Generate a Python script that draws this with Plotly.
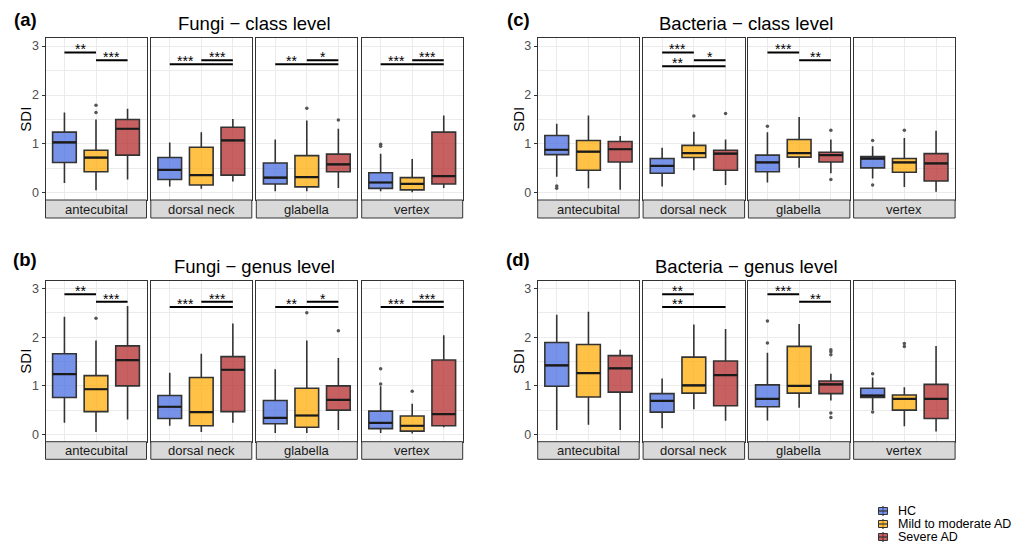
import plotly.graph_objects as go

W, H = 1019, 546
OFF = 8  # default page body margin of the html page

groups = ["HC", "Mild to moderate AD", "Severe AD"]
sites = ["antecubital", "dorsal neck", "glabella", "vertex"]
panel_letters = ["(a)", "(b)", "(c)", "(d)"]
panel_titles = ["Fungi \u2212 class level", "Fungi \u2212 genus level",
                "Bacteria \u2212 class level", "Bacteria \u2212 genus level"]
y_ticks = [0, 1, 2, 3]

# ---- values: [site][group] ----
fungi_class_low = [[0.20, 0.05, 0.27], [0.13, 0.08, 0.23], [0.03, 0.03, 0.10], [0.03, 0.01, 0.10]]
fungi_class_q1 = [[0.62, 0.43, 0.77], [0.27, 0.16, 0.36], [0.18, 0.12, 0.43], [0.09, 0.06, 0.18]]
fungi_class_med = [[1.03, 0.72, 1.31], [0.47, 0.36, 1.07], [0.31, 0.32, 0.58], [0.21, 0.18, 0.34]]
fungi_class_q3 = [[1.24, 0.87, 1.50], [0.72, 0.93, 1.34], [0.61, 0.76, 0.79], [0.41, 0.31, 1.24]]
fungi_class_high = [[1.64, 1.50, 1.72], [1.03, 1.24, 1.51], [1.09, 1.48, 1.31], [0.80, 0.69, 1.58]]
fungi_class_out = [[[], [1.64, 1.79], []], [[], [], []], [[], [1.73], [1.49]], [[0.95, 0.99], [], []]]
fungi_class_sig = [(0, 0, 1, 2.87, "**", 0.5), (0, 1, 2, 2.71, "***", 1.5),
                   (1, 0, 2, 2.63, "***", 0.5), (1, 1, 2, 2.71, "***", 1.5),
                   (2, 0, 2, 2.63, "**", 0.5), (2, 1, 2, 2.71, "*", 1.5),
                   (3, 0, 2, 2.63, "***", 0.5), (3, 1, 2, 2.71, "***", 1.5)]

fungi_genus_low = [[0.24, 0.05, 0.31], [0.18, 0.05, 0.24], [0.03, 0.03, 0.09], [0.03, 0.02, 0.15]]
fungi_genus_q1 = [[0.76, 0.47, 1.00], [0.33, 0.18, 0.47], [0.22, 0.15, 0.50], [0.12, 0.07, 0.18]]
fungi_genus_med = [[1.24, 0.93, 1.53], [0.57, 0.46, 1.33], [0.34, 0.39, 0.71], [0.24, 0.18, 0.42]]
fungi_genus_q3 = [[1.66, 1.21, 1.82], [0.80, 1.17, 1.60], [0.70, 0.95, 1.00], [0.48, 0.38, 1.53]]
fungi_genus_high = [[2.42, 1.93, 2.64], [1.27, 1.66, 2.28], [1.34, 1.93, 1.57], [0.99, 0.63, 2.04]]
fungi_genus_out = [[[], [2.39], []], [[], [], []], [[], [2.50], [2.13]], [[1.04, 1.35], [0.89], []]]
fungi_genus_sig = [(0, 0, 1, 2.88, "**", 0.5), (0, 1, 2, 2.73, "***", 1.5),
                   (1, 0, 2, 2.62, "***", 0.5), (1, 1, 2, 2.73, "***", 1.5),
                   (2, 0, 2, 2.62, "**", 0.5), (2, 1, 2, 2.73, "*", 1.5),
                   (3, 0, 2, 2.62, "***", 0.5), (3, 1, 2, 2.73, "***", 1.5)]

bacteria_class_low = [[0.33, 0.09, 0.06], [0.13, 0.46, 0.16], [0.21, 0.51, 0.40], [0.29, 0.12, 0.02]]
bacteria_class_q1 = [[0.78, 0.46, 0.63], [0.40, 0.72, 0.46], [0.43, 0.73, 0.63], [0.51, 0.42, 0.24]]
bacteria_class_med = [[0.88, 0.84, 0.89], [0.55, 0.81, 0.80], [0.62, 0.81, 0.77], [0.70, 0.62, 0.60]]
bacteria_class_q3 = [[1.17, 1.07, 1.05], [0.70, 0.97, 0.87], [0.77, 1.09, 0.83], [0.74, 0.70, 0.80]]
bacteria_class_high = [[1.41, 1.58, 1.16], [0.92, 1.25, 1.09], [1.24, 1.55, 1.09], [0.95, 1.12, 1.27]]
bacteria_class_out = [[[0.09, 0.14], [], []], [[], [1.57], [1.62]], [[1.36], [], [1.28, 0.27]],
                      [[1.07, 0.16], [1.28], []]]
bacteria_class_sig = [(1, 0, 1, 2.87, "***", 0.5), (1, 1, 2, 2.71, "*", 1.5),
                      (1, 0, 2, 2.59, "**", 0.5),
                      (2, 0, 1, 2.87, "***", 0.5), (2, 1, 2, 2.71, "**", 1.5)]

bacteria_genus_low = [[0.09, 0.20, 0.09], [0.13, 0.52, 0.28], [0.29, 0.55, 0.70], [0.50, 0.17, 0.06]]
bacteria_genus_q1 = [[0.99, 0.77, 0.87], [0.46, 0.85, 0.59], [0.57, 0.85, 0.84], [0.76, 0.50, 0.33]]
bacteria_genus_med = [[1.42, 1.26, 1.36], [0.69, 1.01, 1.22], [0.73, 1.00, 1.03], [0.80, 0.73, 0.73]]
bacteria_genus_q3 = [[1.89, 1.85, 1.62], [0.84, 1.59, 1.51], [1.02, 1.81, 1.10], [0.95, 0.81, 1.03]]
bacteria_genus_high = [[2.46, 2.52, 1.74], [1.15, 2.26, 2.17], [1.68, 2.27, 1.25], [1.17, 0.97, 1.82]]
bacteria_genus_out = [[[], [], []], [[], [], []], [[1.88, 2.33], [], [1.64, 1.70, 1.74, 0.35, 0.44]],
                      [[1.25, 0.46], [1.81, 1.87], []]]
bacteria_genus_sig = [(1, 0, 1, 2.88, "**", 0.5), (1, 0, 2, 2.62, "**", 0.5),
                      (2, 0, 1, 2.88, "***", 0.5), (2, 1, 2, 2.73, "**", 1.5)]

# ---- styling ----
FONT = "Arial, Liberation Sans, sans-serif"
FILLS = ["rgba(65,105,225,0.72)", "rgba(255,170,0,0.72)", "rgba(178,34,34,0.72)"]
GRID = "#EBEBEB"
BORDER = "#333333"
BOX_W = 0.75
YR = [-0.148, 3.16]

row_top = [38.3, 280.7]
row_bot = [200.0, 441.7]
strip_bot = [218.0, 459.3]
col_lefts = [[45.5, 150.8, 256.3, 361.7], [537.7, 643.1, 748.4, 853.6]]
col_w = [101.0, 101.5]

panels = [
    dict(row=0, cg=0, low=fungi_class_low, q1=fungi_class_q1, med=fungi_class_med, q3=fungi_class_q3,
         high=fungi_class_high, out=fungi_class_out, sig=fungi_class_sig),
    dict(row=1, cg=0, low=fungi_genus_low, q1=fungi_genus_q1, med=fungi_genus_med, q3=fungi_genus_q3,
         high=fungi_genus_high, out=fungi_genus_out, sig=fungi_genus_sig),
    dict(row=0, cg=1, low=bacteria_class_low, q1=bacteria_class_q1, med=bacteria_class_med,
         q3=bacteria_class_q3, high=bacteria_class_high, out=bacteria_class_out, sig=bacteria_class_sig),
    dict(row=1, cg=1, low=bacteria_genus_low, q1=bacteria_genus_q1, med=bacteria_genus_med,
         q3=bacteria_genus_q3, high=bacteria_genus_high, out=bacteria_genus_out, sig=bacteria_genus_sig),
]

FW, FH = W - OFF, H - OFF


def px(x):
    return (x - OFF) / FW


def py(y):
    return 1 - (y - OFF) / FH


fig = go.Figure()
layout_axes = {}
shapes = []
annotations = []

for p, pdict in enumerate(panels):
    row, cg = pdict["row"], pdict["cg"]
    for s in range(4):
        k = p * 4 + s + 1
        xid = "x" if k == 1 else f"x{k}"
        yid = "y" if k == 1 else f"y{k}"
        xname = "xaxis" if k == 1 else f"xaxis{k}"
        yname = "yaxis" if k == 1 else f"yaxis{k}"
        left = col_lefts[cg][s]
        right = left + col_w[cg]
        top, bot = row_top[row], row_bot[row]
        layout_axes[xname] = dict(domain=[px(left), px(right)], range=[-0.6, 2.6], anchor=yid,
                                  tickvals=[0, 1, 2], showticklabels=False, ticks="",
                                  showgrid=True, gridcolor=GRID, gridwidth=1.1, zeroline=False,
                                  showline=True, mirror=True, linecolor=BORDER, linewidth=1)
        first = (s == 0)
        layout_axes[yname] = dict(domain=[py(bot), py(top)], range=YR, anchor=xid,
                                  tickvals=y_ticks, showticklabels=first,
                                  ticks="outside" if first else "", ticklen=3, tickcolor=BORDER,
                                  tickfont=dict(family=FONT, size=12.5, color="#4D4D4D"),
                                  showgrid=True, gridcolor=GRID, gridwidth=1.1, zeroline=False,
                                  showline=True, mirror=True, linecolor=BORDER, linewidth=1,
                                  minor=dict(tickvals=[0.5, 1.5, 2.5], showgrid=True,
                                             gridcolor=GRID, gridwidth=0.6, ticks=""))
        for g in range(3):
            fig.add_trace(go.Box(
                x=[g], lowerfence=[pdict["low"][s][g]], q1=[pdict["q1"][s][g]],
                median=[pdict["med"][s][g]], q3=[pdict["q3"][s][g]],
                upperfence=[pdict["high"][s][g]], width=BOX_W, whiskerwidth=0,
                fillcolor=FILLS[g], line=dict(color=BORDER, width=1.6), boxpoints=False,
                showlegend=False, hoverinfo="skip", xaxis=xid, yaxis=yid))
            m = pdict["med"][s][g]
            fig.add_trace(go.Scatter(
                x=[g - BOX_W / 2, g + BOX_W / 2], y=[m, m], mode="lines",
                line=dict(color="#1a1a1a", width=2.2), showlegend=False, hoverinfo="skip",
                xaxis=xid, yaxis=yid))
            outs = pdict["out"][s][g]
            if outs:
                fig.add_trace(go.Scatter(
                    x=[g] * len(outs), y=outs, mode="markers",
                    marker=dict(color="#555555", size=3.5), showlegend=False, hoverinfo="skip",
                    xaxis=xid, yaxis=yid))
        for (si, g1, g2, yv, lab, lx) in pdict["sig"]:
            if si != s:
                continue
            fig.add_trace(go.Scatter(
                x=[g1, g2], y=[yv, yv], mode="lines", line=dict(color="black", width=2),
                showlegend=False, hoverinfo="skip", xaxis=xid, yaxis=yid))
            annotations.append(dict(x=lx, y=yv, xref=xid, yref=yid, text=lab, showarrow=False,
                                    yanchor="bottom", yshift=-7,
                                    font=dict(family=FONT, size=14, color="black")))
        # strip
        shapes.append(dict(type="rect", xref="paper", yref="paper", x0=px(left), x1=px(right),
                           y0=py(strip_bot[row]), y1=py(bot), fillcolor="#D9D9D9",
                           line=dict(color=BORDER, width=1)))
        annotations.append(dict(x=px((left + right) / 2), y=py((bot + strip_bot[row]) / 2),
                                xref="paper", yref="paper", text=sites[s], showarrow=False,
                                xanchor="center", yanchor="middle",
                                font=dict(family=FONT, size=13, color="#1A1A1A")))
    # titles, letters, y-title
    gl = col_lefts[cg][0]
    gr = col_lefts[cg][3] + col_w[cg]
    ty = [24, 266][row]
    annotations.append(dict(x=px((gl + gr) / 2), y=py(ty), xref="paper", yref="paper",
                            text=panel_titles[p], showarrow=False, xanchor="center",
                            yanchor="middle", font=dict(family=FONT, size=18.5, color="black")))
    annotations.append(dict(x=px([25, 518][cg]), y=py([19, 260][row]), xref="paper", yref="paper",
                            text="<b>" + panel_letters[p] + "</b>", showarrow=False,
                            xanchor="center", yanchor="middle",
                            font=dict(family=FONT, size=18.5, color="black")))
    annotations.append(dict(x=px(gl - 20), y=py((row_top[row] + row_bot[row]) / 2),
                            xref="paper", yref="paper", text="SDI", textangle=-90,
                            showarrow=False, xanchor="center", yanchor="middle",
                            font=dict(family=FONT, size=15, color="black")))

# legend
leg_y = [511, 524, 537]
lx0 = 883
for g, name in enumerate(groups):
    yc = leg_y[g]
    shapes.append(dict(type="line", xref="paper", yref="paper", x0=px(lx0), x1=px(lx0),
                       y0=py(yc - 5), y1=py(yc + 5), line=dict(color=BORDER, width=1.2)))
    shapes.append(dict(type="rect", xref="paper", yref="paper", x0=px(lx0 - 4.5), x1=px(lx0 + 4.5),
                       y0=py(yc + 3.5), y1=py(yc - 3.5), fillcolor=FILLS[g],
                       line=dict(color=BORDER, width=1)))
    shapes.append(dict(type="line", xref="paper", yref="paper", x0=px(lx0 - 4.5), x1=px(lx0 + 4.5),
                       y0=py(yc), y1=py(yc), line=dict(color=BORDER, width=1.2)))
    annotations.append(dict(x=px(lx0 + 13), y=py(yc), xref="paper", yref="paper", text=name,
                            showarrow=False, xanchor="left", yanchor="middle",
                            font=dict(family=FONT, size=12.5, color="black")))

fig.update_layout(width=FW, height=FH, margin=dict(l=0, r=0, t=0, b=0),
                  paper_bgcolor="white", plot_bgcolor="white", boxmode="overlay",
                  showlegend=False, shapes=shapes, annotations=annotations, **layout_axes)

fig.write_html("out.html")
